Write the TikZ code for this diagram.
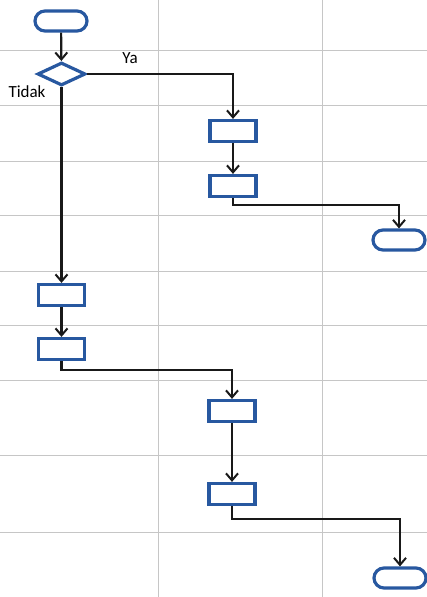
\documentclass[tikz,border=0pt]{standalone}
\usepackage{fontspec}
\setmainfont{Carlito}
\usetikzlibrary{shapes.geometric, arrows.meta, positioning}
\definecolor{boxblue}{RGB}{40,88,160}

\begin{document}
\begin{tikzpicture}[
  x=1pt, y=-1pt,
  grid/.style={gray!45, line width=0.8pt},
  flow/.style={-{Straight Barb[length=7pt, width=12pt, line width=2pt]}, line width=2.2pt, black!90},
  proc/.style={draw=boxblue, line width=3.2pt, fill=white, minimum width=46pt, minimum height=21pt, inner sep=0pt},
  term/.style={draw=boxblue, line width=3.2pt, fill=white, rounded corners=10pt, minimum width=52pt, minimum height=20pt, inner sep=0pt},
  decide/.style={diamond, draw=boxblue, line width=3.2pt, fill=white, minimum width=48pt, minimum height=23pt, inner sep=0pt, aspect=2},
  lbl/.style={font=\fontsize{17}{19}\selectfont}
]
\useasboundingbox (0,0) rectangle (427,597);
% background grid
\foreach \gx in {158,322}
  \draw[grid] (\gx,0) -- (\gx,597);
\foreach \gy in {50,105,161,215,271,325,380,455,532}
  \draw[grid] (0,\gy) -- (427,\gy);

% shapes
\node[term] (start) at (61,21) {};
\node[decide] (dec) at (61.5,74) {};
\node[proc] (ya1) at (233,131) {};
\node[proc] (ya2) at (233,186) {};
\node[term] (yaend) at (399,240) {};
\node[proc] (td1) at (61.5,295) {};
\node[proc] (td2) at (61.5,349) {};
\node[proc] (td3) at (232,411) {};
\node[proc] (td4) at (232,494) {};
\node[term] (tdend) at (400,578) {};

\node[lbl] (yes) at (130,58) {Ya};
\node[lbl] (no) at (27,92) {Tidak};

% connectors
\draw[flow] (start) -- (dec);
\draw[flow] (dec.east) -| (ya1.north);
\draw[flow] (ya1) -- (ya2);
\draw[flow] (ya2.south) -- ++(0,7) -| (yaend.north);
\draw[flow] (dec.south) -- (td1.north);
\draw[flow] (td1) -- (td2);
\draw[flow] (td2.south) -- ++(0,9) -| (td3.north);
\draw[flow] (td3) -- (td4);
\draw[flow] (td4.south) -- ++(0,13) -| (tdend.north);
\end{tikzpicture}
\end{document}
